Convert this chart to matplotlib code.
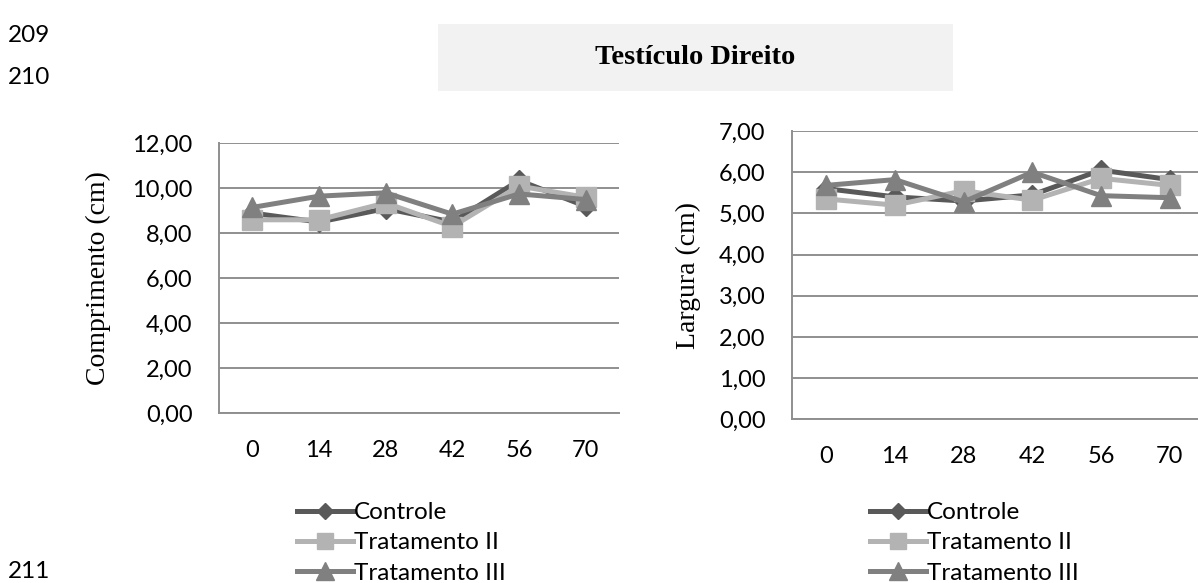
import matplotlib.pyplot as plt
from matplotlib.patches import Rectangle
import numpy as np

# dias de avaliação
dias = ["0", "14", "28", "42", "56", "70"]
series = ["Controle", "Tratamento II", "Tratamento III"]

# comprimento do testículo direito (cm)
comp_controle = [8.90, 8.50, 9.10, 8.50, 10.35, 9.20]
comp_trat2 = [8.60, 8.60, 9.35, 8.30, 10.10, 9.60]
comp_trat3 = [9.15, 9.65, 9.80, 8.85, 9.75, 9.50]

# largura do testículo direito (cm)
larg_controle = [5.60, 5.40, 5.30, 5.45, 6.05, 5.82]
larg_trat2 = [5.35, 5.20, 5.55, 5.32, 5.85, 5.68]
larg_trat3 = [5.68, 5.82, 5.28, 6.00, 5.43, 5.38]

cores = ["#595959", "#b3b3b3", "#808080"]
marcadores = ["D", "s", "^"]
tam_marc = [10, 14, 15]

fonte_num = "Lato"
fonte_serif = "Liberation Serif"
cinza_grade = "#8f8f8f"

fig = plt.figure(figsize=(11.98, 5.83), dpi=100)
W, H = 1198, 583


def eixo(px_left, px_top, px_right, px_bottom):
    return fig.add_axes([px_left / W, 1 - px_bottom / H,
                         (px_right - px_left) / W, (px_bottom - px_top) / H])


def desenha(ax, dados, ymax, passo, rotulo, label_x):
    x = np.arange(len(dias))
    for vals, cor, m, ms, nome in zip(dados, cores, marcadores, tam_marc, series):
        ax.plot(x, vals, color=cor, lw=3.6, marker=m, ms=ms, mec=cor, mfc=cor,
                label=nome, solid_joinstyle="miter")
    ax.set_xlim(-0.5, len(dias) - 0.5)
    ax.set_ylim(0, ymax)
    ticks = np.arange(0, ymax + passo / 2, passo)
    ax.set_yticks(ticks)
    ax.set_yticklabels([f"{t:.2f}".replace(".", ",") for t in ticks],
                       fontfamily=fonte_num, fontsize=17)
    ax.set_xticks(x)
    ax.set_xticklabels(dias, fontfamily=fonte_num, fontsize=17)
    ax.tick_params(axis="y", length=0, pad=19, colors="black")
    ax.tick_params(axis="x", length=0, pad=19, colors="black")
    ax.yaxis.grid(True, color=cinza_grade, lw=1.4)
    ax.set_axisbelow(True)
    for s in ["top", "right"]:
        ax.spines[s].set_visible(False)
    for s in ["left", "bottom"]:
        ax.spines[s].set_color(cinza_grade)
        ax.spines[s].set_linewidth(1.4)
    ax.set_ylabel(rotulo, fontfamily=fonte_serif, fontsize=20)
    ax.yaxis.set_label_coords(label_x, 0.5)


ax1 = eixo(219, 143.3, 619, 413.3)
desenha(ax1, [comp_controle, comp_trat2, comp_trat3], 12, 2,
        "Comprimento (cm)", -0.27)

ax2 = eixo(792, 131, 1204, 419.3)
desenha(ax2, [larg_controle, larg_trat2, larg_trat3], 7, 1,
        "Largura (cm)", -0.222)

# legendas abaixo de cada gráfico
for ax, px in [(ax1, 297), (ax2, 870)]:
    ax.legend(loc="upper left", bbox_to_anchor=(px / W, 1 - 502 / H),
              bbox_transform=fig.transFigure, frameon=False, numpoints=1,
              prop={"family": fonte_num, "size": 17.5}, handlelength=2.3,
              handletextpad=0.05, borderpad=0, borderaxespad=0,
              labelspacing=0.38, markerscale=0.85)

# caixa do título
fig.patches.append(Rectangle((438 / W, 1 - 91 / H), (953 - 438) / W, 67 / H,
                             transform=fig.transFigure, facecolor="#f2f2f2",
                             edgecolor="none"))
fig.text(695 / W, 1 - 57 / H, "Testículo Direito", ha="center", va="center",
         fontfamily=fonte_serif, fontweight="bold", fontsize=20.5)

# numeração das linhas da página
for num, py in [("209", 35), ("210", 77), ("211", 571)]:
    fig.text(8 / W, 1 - py / H, num, ha="left", va="center",
             fontfamily=fonte_num, fontsize=17.5)

fig.savefig("out.png", dpi=100)
